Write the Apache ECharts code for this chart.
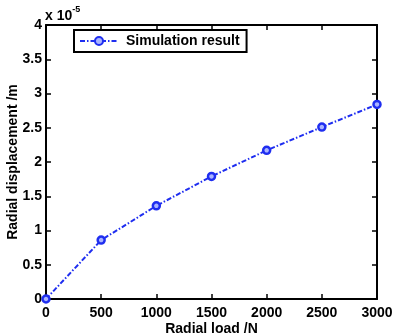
<!DOCTYPE html>
<html>
<head>
<meta charset="utf-8">
<script src="https://cdn.jsdelivr.net/npm/echarts@6/dist/echarts.min.js"></script>
<style>
  html, body { margin: 0; padding: 0; background: #fff; }
  #chart { width: 393px; height: 336px; }
</style>
</head>
<body>
<div id="chart"></div>
<script>
// radial load (N) vs radial displacement (x 1e-5 m)
const loads = [0, 500, 1000, 1500, 2000, 2500, 3000];
const displacement = [0, 0.86, 1.36, 1.79, 2.17, 2.51, 2.84];
const xTicks = [0, 500, 1000, 1500, 2000, 2500, 3000];
const yTicks = [0, 0.5, 1, 1.5, 2, 2.5, 3, 3.5, 4];

const font = "Liberation Sans, Arial, sans-serif";
const blue = "#1f2ef0";
const txt = { fontFamily: font, fontSize: 14, fontWeight: "bold", color: "#000" };

const chart = echarts.init(document.getElementById("chart"), null, { renderer: "canvas" });

const seriesData = loads.map((x, i) => [x, displacement[i]]);

const option = {
  animation: false,
  backgroundColor: "#fff",
  grid: { left: 46, right: 16, top: 25, bottom: 37, containLabel: false, outerBoundsMode: "none" },
  legend: {
    data: ["Simulation result"],
    left: 74,
    top: 30,
    orient: "horizontal",
    itemWidth: 38,
    itemHeight: 10,
    itemGap: 4,
    padding: [4, 7, 4, 5],
    borderColor: "#000",
    borderWidth: 2,
    backgroundColor: "#fff",
    textStyle: Object.assign({}, txt, { padding: [0, 0, 0, 3] }),
  },
  graphic: [
    {
      type: "text",
      left: 45,
      top: 5,
      style: {
        text: "{a|x 10}{b|-5}",
        rich: {
          a: { fontFamily: font, fontSize: 14, fontWeight: "bold", fill: "#000", verticalAlign: "bottom" },
          b: { fontFamily: font, fontSize: 9, fontWeight: "bold", fill: "#000", verticalAlign: "top", padding: [0, 0, 9, 0] },
        },
      },
    },
  ],
  xAxis: [
    {
      type: "value",
      min: 0,
      max: 3000,
      interval: 500,
      name: "Radial load /N",
      nameLocation: "middle",
      nameGap: 23,
      nameMoveOverlap: false,
      nameTextStyle: txt,
      axisLine: { show: true, onZero: false, lineStyle: { color: "#000", width: 2 } },
      axisTick: { show: true, inside: true, length: 5, lineStyle: { color: "#000", width: 1.5 } },
      axisLabel: Object.assign({}, txt, {
        margin: 7,
        formatter: (v) => (xTicks.includes(v) ? String(v) : ""),
      }),
      splitLine: { show: false },
    },
    {
      type: "value",
      position: "top",
      min: 0,
      max: 3000,
      interval: 500,
      axisLine: { show: true, onZero: false, lineStyle: { color: "#000", width: 2 } },
      axisTick: { show: true, inside: true, length: 5, lineStyle: { color: "#000", width: 1.5 } },
      axisLabel: { show: false },
      splitLine: { show: false },
    },
  ],
  yAxis: [
    {
      type: "value",
      min: 0,
      max: 4,
      interval: 0.5,
      name: "Radial displacement /m",
      nameLocation: "middle",
      nameGap: 26,
      nameMoveOverlap: false,
      nameTextStyle: txt,
      axisLine: { show: true, onZero: false, lineStyle: { color: "#000", width: 2 } },
      axisTick: { show: true, inside: true, length: 5, lineStyle: { color: "#000", width: 1.5 } },
      axisLabel: Object.assign({}, txt, {
        margin: 4,
        formatter: (v) => (yTicks.includes(v) ? String(v) : ""),
      }),
      splitLine: { show: false },
    },
    {
      type: "value",
      position: "right",
      min: 0,
      max: 4,
      interval: 0.5,
      axisLine: { show: true, onZero: false, lineStyle: { color: "#000", width: 2 } },
      axisTick: { show: true, inside: true, length: 5, lineStyle: { color: "#000", width: 1.5 } },
      axisLabel: { show: false },
      splitLine: { show: false },
    },
  ],
  series: [
    {
      name: "Simulation result",
      type: "line",
      xAxisIndex: 0,
      yAxisIndex: 0,
      data: seriesData,
      symbol: "circle",
      symbolSize: 7,
      showAllSymbol: true,
      itemStyle: { color: "#aab4ff", borderColor: blue, borderWidth: 2.5 },
      lineStyle: { color: blue, width: 2, type: [5, 2, 1.5, 2] },
      z: 3,
    },
  ],
};

chart.setOption(option);
</script>
</body>
</html>
